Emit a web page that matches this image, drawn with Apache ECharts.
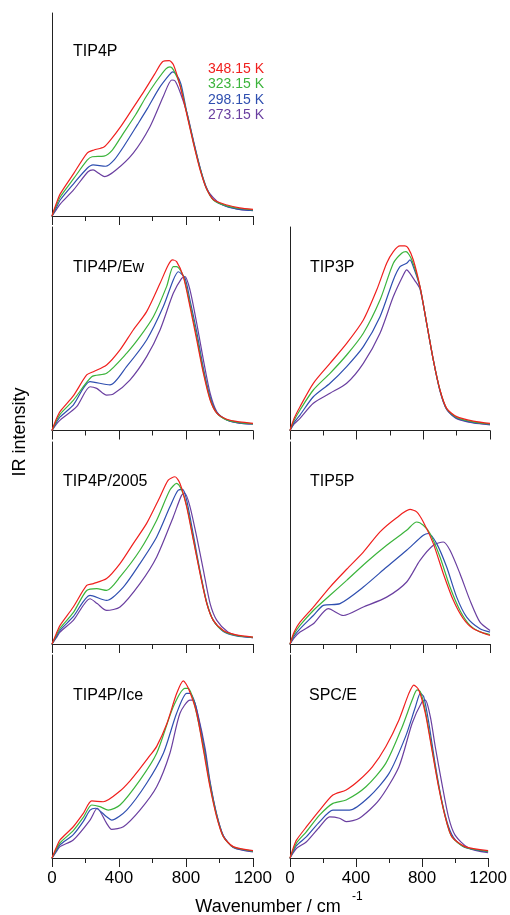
<!DOCTYPE html>
<html>
<head>
<meta charset="utf-8">
<script src="https://cdn.jsdelivr.net/npm/echarts@6/dist/echarts.min.js"></script>
<style>
  html, body { margin: 0; padding: 0; background: #fff; }
  #main { width: 510px; height: 915px; }
</style>
</head>
<body>
<div id="main"></div>
<script>
// model names, one panel each
const models = ['TIP4P', 'TIP4P/Ew', 'TIP3P', 'TIP4P/2005', 'TIP5P', 'TIP4P/Ice', 'SPC/E']
const temps = ['348.15 K', '323.15 K', '298.15 K', '273.15 K']
const xTicks = [0, 400, 800, 1200]

// [wavenumber, intensity]
const tip4p348 = [[0,0],[25,6],[50,11],[130,21],[210,31],[250,32.5],[310,34],[350,37.5],[410,44],[490,54],[550,61.5],[610,69.5],[660,76],[700,76.5],[725,74.5],[765,64],[805,50],[845,35.5],[885,22.5],[925,13],[965,8],[1045,5.4],[1120,4],[1200,3.3]]
const tip4p323 = [[0,0],[25,5],[50,9.5],[130,18.5],[210,27.5],[240,29.2],[310,29.5],[360,32.5],[420,40],[500,50],[560,58.5],[620,66],[680,72.5],[705,73.5],[725,72],[765,64.5],[805,50.5],[845,36],[885,23],[925,13],[965,7.8],[1045,5],[1120,3.7],[1200,3]]
const tip4p298 = [[0,0],[25,4],[50,8],[130,16],[210,23.5],[245,25.2],[320,24.5],[370,27.5],[430,34.5],[510,45],[570,53],[640,63],[700,69.5],[720,71],[740,70],[770,65],[805,51],[845,36.5],[885,23.5],[925,13.5],[965,7.8],[1045,4.6],[1120,3.3],[1200,2.7]]
const tip4p273 = [[0,0],[25,3],[50,6],[130,13],[215,21.8],[245,22.7],[280,21],[315,19.4],[380,22.5],[485,31],[585,44],[665,59],[715,67],[735,66.5],[765,61],[805,51],[845,37],[885,23.5],[925,13],[1005,6],[1100,3.5],[1200,2.6]]

const ew348 = [[0,0],[25,5.5],[50,9.5],[127,17],[207,27.3],[247,28.9],[326,32.2],[406,39.6],[485,49.4],[565,58.4],[645,72.3],[694,81.3],[720,83.8],[744,83],[784,75.6],[824,60.8],[864,44.5],[904,28.1],[944,15],[984,8.5],[1043,5.5],[1120,4.2],[1200,3.5]]
const ew323 = [[0,0],[25,4.6],[50,8.2],[127,14.8],[237,26.4],[326,28.1],[445,37.9],[525,46.1],[605,55.9],[684,70.7],[724,80.5],[744,80.5],[784,76],[824,62],[864,46],[904,29],[944,15.5],[984,8.5],[1043,5.2],[1120,3.9],[1200,3.3]]
const ew298 = [[0,0],[25,3.8],[50,6.8],[127,12.5],[227,24],[346,22.4],[445,31.4],[565,44.5],[664,60.8],[724,74],[754,78],[794,74.8],[824,64],[864,48.5],[904,30.5],[944,16.5],[984,8.8],[1043,5.2],[1120,3.6],[1200,3.2]]
const ew273 = [[0,0],[25,3],[50,5.2],[147,11.7],[227,21.5],[267,20.7],[326,17.4],[366,17.9],[465,24.8],[565,36.3],[645,49.4],[724,67.4],[774,74.8],[794,75.6],[824,69],[864,52.7],[904,34.6],[944,18.3],[984,9.2],[1043,5.3],[1120,3.6],[1200,3.2]]

const tip3p348 = [[0,0],[25,6],[60,11.7],[140,23.2],[240,33],[340,42.8],[440,54.3],[520,69],[580,82.2],[620,87.9],[660,90.7],[690,90.7],[710,89.5],[740,83.8],[780,70.7],[820,52.7],[860,34.6],[900,19.9],[940,10.9],[1000,6.8],[1100,4.6],[1200,3.5]]
const tip3p323 = [[0,0],[25,5],[60,10.1],[140,19.9],[240,28.1],[340,37.1],[440,47.8],[540,64.1],[620,82.2],[670,87.1],[696,87.9],[730,84],[780,70.5],[820,52.7],[860,34.6],[900,19.8],[940,10.7],[1000,6.4],[1100,4.2],[1200,3.2]]
const tip3p298 = [[0,0],[25,4],[60,7.6],[140,16.6],[240,23.2],[340,31.4],[440,41.2],[540,55.9],[620,74],[660,80.5],[700,82.2],[720,83.8],[740,80.5],[780,70.5],[820,52.7],[860,34.6],[900,19.6],[940,10.5],[1000,6],[1100,3.9],[1200,3]]
const tip3p273 = [[0,0],[25,3.2],[60,6],[140,13.4],[240,18.3],[340,23.2],[440,33],[540,47.8],[620,65.8],[680,76.4],[700,78.9],[720,77.2],[746,74],[780,69.5],[820,52.5],[860,34.6],[900,19.4],[940,10.3],[1000,5.8],[1100,3.7],[1200,2.8]]

const t2005_348 = [[0,0],[25,5],[48,9.2],[127,18.3],[207,29],[247,29.9],[326,32.4],[406,39.8],[485,49.7],[565,59.7],[645,72.9],[694,81.1],[734,82.8],[764,79.5],[804,67.9],[844,51.4],[884,34.8],[924,20],[963,11.7],[1023,6.7],[1100,4.5],[1200,3.4]]
const t2005_323 = [[0,0],[25,4.2],[48,7.8],[127,15.5],[207,26.5],[267,27.4],[326,26.5],[406,33.2],[525,46.4],[625,61.3],[704,76.2],[744,79.5],[774,76.2],[804,68.5],[844,52],[884,35.3],[924,20.3],[963,11.7],[1023,6.4],[1100,4.2],[1200,3.3]]
const t2005_298 = [[0,0],[25,3.5],[48,6.8],[127,13.5],[227,24.1],[326,21.6],[426,28.2],[525,39.8],[625,53],[704,67.9],[754,76.2],[780,76.5],[804,71.2],[844,54],[884,36],[924,20.5],[963,11.7],[1023,6.2],[1100,4],[1200,3.2]]
const t2005_273 = [[0,0],[25,3],[48,5.9],[127,11.7],[227,22.4],[270,20],[326,16.6],[406,18.3],[525,29.9],[625,43.1],[724,62.9],[774,73.7],[794,74.5],[824,67.9],[864,53],[904,36.5],[944,20],[984,11.7],[1050,6],[1120,4],[1200,3.1]]

const tip5p348 = [[0,0],[25,6],[60,10.8],[140,18.3],[240,28.2],[340,37],[440,45.5],[540,55.5],[640,62.5],[720,66.6],[760,65.4],[800,60.4],[860,49.7],[920,34.8],[980,21.6],[1040,12.5],[1100,7.5],[1200,4.2]]
const tip5p323 = [[0,0],[25,5],[60,9.2],[140,16.6],[240,24.1],[340,31.5],[460,40.6],[580,48.9],[700,56.3],[760,60.4],[800,58.8],[840,54.7],[900,43.1],[960,28.2],[1020,16.6],[1080,9.2],[1140,6],[1200,4.7]]
const tip5p298 = [[0,0],[25,4],[60,7.5],[140,14.1],[200,19.1],[300,20],[440,28.2],[580,38.1],[700,46.4],[800,53.8],[830,54.7],[880,49.7],[940,38.1],[1000,23.2],[1060,13.3],[1140,7.5],[1200,5.9]]
const tip5p273 = [[0,0],[25,3],[60,5.9],[140,10],[230,17.5],[320,14.1],[440,18.3],[580,23.2],[700,30.7],[780,41.4],[860,48.9],[920,50.5],[960,46.4],[1020,34.8],[1080,21.6],[1140,10.8],[1200,6.7]]

const ice348 = [[0,0],[25,5],[48,8.9],[127,15.4],[187,22],[237,28.1],[306,27.7],[406,33],[466,38],[525,44],[585,50.5],[625,55],[685,66],[744,81],[784,87.3],[814,83.6],[864,71.3],[904,53.2],[943,35.1],[983,20.3],[1023,10.5],[1082,5.6],[1200,3.6]]
const ice323 = [[0,0],[25,4.2],[48,7.5],[127,13.5],[187,20],[237,26.1],[286,25.3],[336,23.6],[406,26.1],[525,38.4],[625,51.6],[724,74.5],[794,83.6],[814,83.6],[844,77.8],[874,67],[904,54.5],[943,36],[983,20.8],[1023,10.5],[1082,5.4],[1200,3.4]]
const ice298 = [[0,0],[25,3.5],[48,6.5],[127,11.5],[187,18],[227,23.6],[260,24.5],[326,20.3],[356,18.7],[446,23.6],[565,36.8],[665,51.6],[744,71.3],[804,81.1],[824,81.1],[854,76.2],[884,65],[914,52],[943,37],[983,21.5],[1023,11],[1082,5.3],[1200,3.2]]
const ice273 = [[0,0],[25,3],[48,5.6],[127,8.9],[227,18.7],[270,24.5],[326,17.1],[356,14.1],[426,15.4],[525,23.6],[625,35.1],[704,51.6],[764,71.3],[824,77.8],[844,77.8],[874,69.6],[914,54],[943,38],[983,21.5],[1023,11],[1082,5.2],[1200,3]]

const spce348 = [[0,0],[20,5],[40,8.9],[100,15.4],[180,23.6],[260,31],[340,33.5],[420,38.4],[500,45],[580,54.8],[660,68],[720,81.1],[750,85.2],[780,82.8],[820,71.3],[860,53.2],[900,35.1],[940,20.3],[980,10.5],[1060,5.6],[1200,3.6]]
const spce323 = [[0,0],[20,4],[40,7.5],[100,13],[180,21.2],[260,26.9],[340,28.6],[460,35.1],[580,46.6],[680,64.7],[740,77.8],[770,82.8],[790,81.9],[820,72.5],[860,54],[900,35.6],[940,20.5],[980,10.5],[1060,5.3],[1200,3.3]]
const spce298 = [[0,0],[20,3.3],[40,6.2],[100,10.5],[180,17.9],[260,23.6],[360,23.6],[480,30.2],[600,41.7],[700,59.8],[760,74.5],[790,81.1],[810,79.5],[840,67],[880,46],[920,28],[960,15.5],[1000,9],[1060,5.2],[1200,3.1]]
const spce273 = [[0,0],[20,2.6],[40,4.8],[100,8],[180,15.4],[240,20.3],[300,19.6],[340,17.9],[420,19.6],[540,28.6],[660,45],[740,66.4],[800,77],[820,77.8],[850,69.6],[880,54.8],[920,36.8],[960,20.3],[1000,11.3],[1080,5],[1200,2.6]]

const panelData = [
  [tip4p348, tip4p323, tip4p298, tip4p273],
  [ew348, ew323, ew298, ew273],
  [tip3p348, tip3p323, tip3p298, tip3p273],
  [t2005_348, t2005_323, t2005_298, t2005_273],
  [tip5p348, tip5p323, tip5p298, tip5p273],
  [ice348, ice323, ice298, ice273],
  [spce348, spce323, spce298, spce273]
]

const colors = ['#f0201e', '#3cb43c', '#2f4fb0', '#6a3fa0']
const font = 'Liberation Sans, Arial, sans-serif'

// panel boxes: left, top, width, height
const cells = [
  [52, 13, 201, 203],
  [52, 227, 201, 203.5],
  [290, 227, 200, 203.5],
  [52, 442, 201, 202],
  [290, 442, 200, 202],
  [52, 655, 201, 203],
  [290, 655, 200, 203]
]
const labelPos = [[73, 53], [73, 269], [310, 269], [63, 483], [310, 483], [73, 697], [309, 697]]

const grid = []
const xAxis = []
const yAxis = []
const series = []
const graphic = []

cells.forEach((c, i) => {
  grid.push({ left: c[0], top: c[1], width: c[2], height: c[3] })
  const bottomRow = i >= 5
  xAxis.push({
    gridIndex: i,
    type: 'value',
    min: 0,
    max: 1200,
    interval: 400,
    axisLine: { show: true, lineStyle: { color: '#222', width: 1 } },
    axisTick: { show: true, length: 9, lineStyle: { color: '#222' } },
    minorTick: { show: true, splitNumber: 2, length: 5, lineStyle: { color: '#222' } },
    splitLine: { show: false },
    axisLabel: {
      show: bottomRow,
      margin: 12,
      color: '#000',
      fontSize: 17,
      fontFamily: font,
      showMinLabel: true,
      showMaxLabel: true,
      formatter: v => String(v)
    }
  })
  yAxis.push({
    gridIndex: i,
    type: 'value',
    min: 0,
    max: 100,
    axisLine: { show: true, lineStyle: { color: '#222', width: 1 } },
    axisTick: { show: false },
    axisLabel: { show: false },
    splitLine: { show: false }
  })
  // colder curves first so red ends up on top
  for (let k = 3; k >= 0; k--) {
    series.push({
      type: 'line',
      name: temps[k],
      xAxisIndex: i,
      yAxisIndex: i,
      data: panelData[i][k],
      showSymbol: false,
      smooth: 0.25,
      lineStyle: { color: colors[k], width: 1.2 },
      silent: true,
      animation: false
    })
  }
  graphic.push({
    type: 'text',
    left: labelPos[i][0],
    top: labelPos[i][1] - 9,
    style: { text: models[i], font: '16px ' + font, fill: '#000' }
  })
})

// temperature legend in the first panel
temps.forEach((t, k) => {
  graphic.push({
    type: 'text',
    left: 208,
    top: [70, 85, 101, 116][k] - 8,
    style: { text: t, font: '14px ' + font, fill: colors[k] }
  })
})

graphic.push({
  type: 'text',
  x: 268,
  y: 907,
  style: { text: 'Wavenumber / cm', font: '18px ' + font, fill: '#000', align: 'center', verticalAlign: 'middle' }
})
graphic.push({
  type: 'text',
  x: 352,
  y: 897,
  style: { text: '-1', font: '12px ' + font, fill: '#000', align: 'left', verticalAlign: 'middle' }
})
graphic.push({
  type: 'text',
  x: 20,
  y: 432,
  rotation: Math.PI / 2,
  style: { text: 'IR intensity', font: '18px ' + font, fill: '#000', align: 'center', verticalAlign: 'middle' }
})

const chart = echarts.init(document.getElementById('main'), null, { renderer: 'canvas' })
chart.setOption({
  backgroundColor: '#fff',
  animation: false,
  grid: grid,
  xAxis: xAxis,
  yAxis: yAxis,
  series: series,
  graphic: graphic
})
</script>
</body>
</html>
